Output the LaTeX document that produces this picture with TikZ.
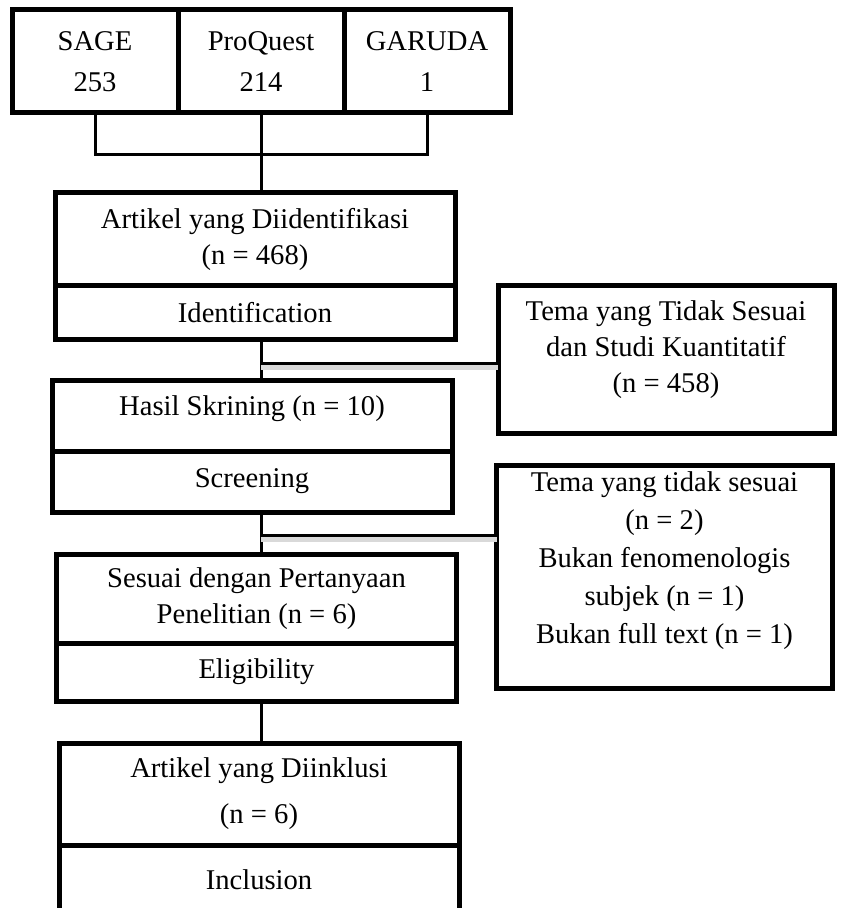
\documentclass[tikz,border=0pt]{standalone}
\usepackage{fontspec}
\setmainfont{Liberation Serif}
\usetikzlibrary{positioning}

\begin{document}
\begin{tikzpicture}[
        x=0.5pt, y=-0.5pt,
        box/.style={draw, line width=2.5pt, outer sep=0pt, inner sep=0pt, align=center, font=\fontsize{14.3}{18}\selectfont},
        source/.style={box, minimum width=83pt, minimum height=51.5pt},
        stage/.style={box, minimum width=200pt},
        excluded/.style={box, minimum width=168pt},
        link/.style={line width=1.5pt},
        linkshadow/.style={line width=2.5pt, gray!30}
    ]
        \clip (0,0) rectangle (840,908);

        % Databases
        \node[source] (sage) at (95,61.5) {SAGE\\[2.5pt]253};
        \node[source, right=0pt of sage] (proquest) {ProQuest\\[2.5pt]214};
        \node[source, right=0pt of proquest] (garuda) {GARUDA\\[2.5pt]1};

        % Stages
        \node[stage, minimum height=46.5pt] (ident) at (255,239.5) {Artikel yang Diidentifikasi\\(n = 468)};
        \node[stage, minimum height=27pt, below=0pt of ident] (identlab) {Identification};

        \node[stage, minimum height=35.5pt, text depth=10pt] (screen) at (252,415.5) {Hasil Skrining (n = 10)};
        \node[stage, minimum height=30.5pt, below=0pt of screen] (screenlab) {Screening};

        \node[stage, minimum height=44.5pt] (elig) at (256.5,598.5) {Sesuai dengan Pertanyaan\\Penelitian (n = 6)};
        \node[stage, minimum height=29pt, below=0pt of elig] (eliglab) {Eligibility};

        \node[stage, minimum height=51pt] (incl) at (259,794) {Artikel yang Diinklusi\\[5pt](n = 6)};
        \node[stage, minimum height=45pt, text depth=10pt, below=0pt of incl] (incllab) {Inclusion};

        % Excluded
        \node[excluded, minimum height=73.5pt, text depth=13pt] (excl1) at (666,359.5) {Tema yang Tidak Sesuai\\dan Studi Kuantitatif\\(n = 458)};
        \node[excluded, minimum height=111.5pt, text depth=19pt] (excl2) at (664.5,576.5) {Tema yang tidak sesuai\\[1pt](n = 2)\\[1pt]Bukan fenomenologis\\[1pt]subjek (n = 1)\\[1pt]Bukan full text (n = 1)};

        % Lines
        \coordinate (j1) at (261,364);
        \coordinate (j2) at (261,535);
        \draw[link] (sage.south) -- ++(0,42) -| (garuda.south);
        \draw[link] (proquest.south) -- (ident.north -| proquest.south);
        \draw[link] (identlab.south -| j1) -- (screen.north -| j1);
        \draw[link] (screenlab.south -| j2) -- (elig.north -| j2);
        \draw[link] (eliglab.south -| j2) -- (incl.north -| j2);
        \draw[linkshadow] ([yshift=-2pt]j1) -- ([yshift=-2pt]j1 -| excl1.west);
        \draw[linkshadow] ([yshift=-2pt]j2) -- ([yshift=-2pt]j2 -| excl2.west);
        \draw[link] (j1) -- (j1 -| excl1.west);
        \draw[link] (j2) -- (j2 -| excl2.west);
    \end{tikzpicture}
\end{document}
